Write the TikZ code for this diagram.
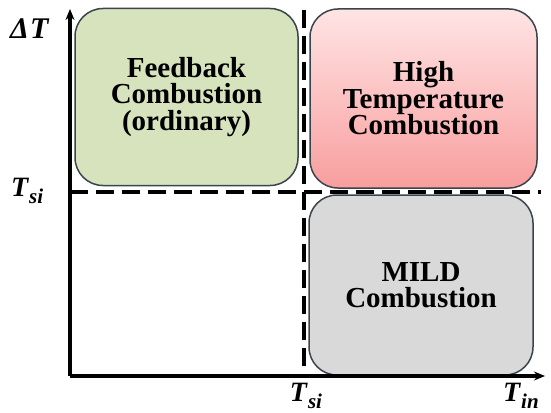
\documentclass[tikz,border=0pt]{standalone}
\usepackage{fontspec}
\setmainfont{Liberation Serif}
\usetikzlibrary{arrows.meta}
\definecolor{fbgreen}{RGB}{215,227,189}
\definecolor{hotpinktop}{RGB}{255,228,228}
\definecolor{hotpinkbot}{RGB}{248,158,158}
\definecolor{mildgrey}{RGB}{217,217,217}
\definecolor{edgegrey}{RGB}{58,68,76}
% bold italic symbol with a lowered subscript
\newcommand{\axsym}[2]{\textbf{\textit{#1}}\raisebox{-7pt}{\fontsize{21}{21}\selectfont\textbf{\textit{#2}}}}
\tikzset{
  box/.style={draw=edgegrey, line width=1.5pt, rounded corners=28pt, align=center,
              inner sep=0pt, font=\fontsize{29}{26.5}\selectfont\bfseries},
  greenbox/.style={box, fill=fbgreen},
  redbox/.style={box, top color=hotpinktop, bottom color=hotpinkbot},
  greybox/.style={box, fill=mildgrey},
  axis/.style={-{Stealth[length=11pt,width=9pt]}, line width=3.2pt},
  split/.style={line width=3.2pt, dash pattern=on 18pt off 8pt},
  axlab/.style={font=\fontsize{28}{28}\selectfont, inner sep=0pt},
}

\begin{document}
\begin{tikzpicture}[x=1pt, y=-1pt]
  \useasboundingbox (0,0) rectangle (551,412);

  \coordinate (O)    at (70,376);
  \coordinate (Ytip) at (70,9);
  \coordinate (Xtip) at (545,376);
  \coordinate (Vtop) at (304,10);
  \coordinate (Vbot) at (304,376);
  \coordinate (Hlft) at (70,192);
  \coordinate (Hrgt) at (541,192);

  % threshold lines
  \draw[split] (Vtop) -- (Vbot);
  \draw[split] (Hlft) -- (Hrgt);

  % regimes
  \node[greenbox, minimum width=223pt, minimum height=177pt] (FB) at (186.5,97)
    {Feedback\\Combustion\\(ordinary)};
  \node[redbox, minimum width=227pt, minimum height=179pt]   (HT) at (423.5,98.5)
    {High\\Temperature\\Combustion};
  \node[greybox, minimum width=224pt, minimum height=180pt]  (ML) at (421,285)
    {MILD\\Combustion};

  % axes
  \draw[axis] (O) -- (Ytip);
  \draw[axis] (O) -- (Xtip);

  \node[axlab, anchor=base west] (dT)   at (10,38)  {\fontsize{30}{30}\selectfont\textbf{\textit{Δ\kern1pt T}}};
  \node[axlab, anchor=base west] (Tsy)  at (11,196) {\axsym{T}{si}};
  \node[axlab, anchor=base]      (Tsx)  at (306,401) {\axsym{T}{si}};
  \node[axlab, anchor=base west] (Tin)  at (503,401) {\axsym{T}{in}};
\end{tikzpicture}
\end{document}
